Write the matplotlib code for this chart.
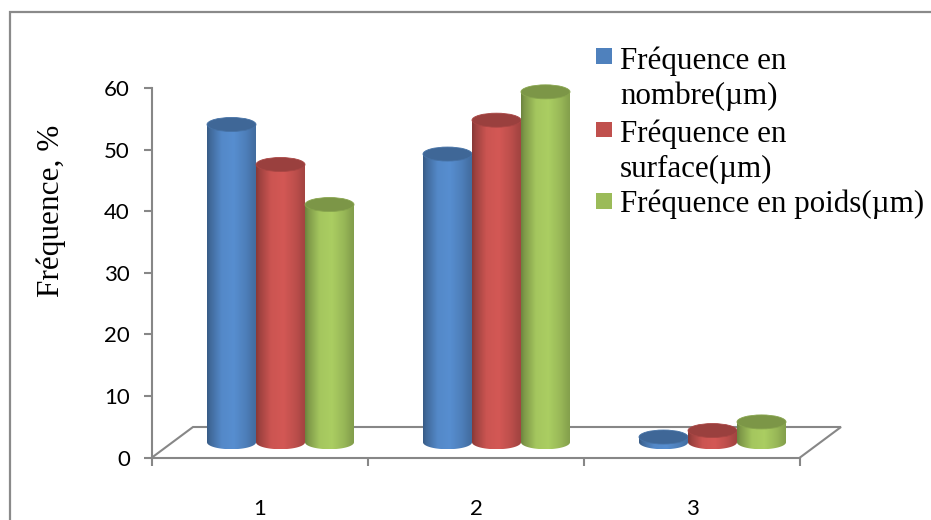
import numpy as np
import matplotlib
matplotlib.use("Agg")
import matplotlib.pyplot as plt
from matplotlib.patches import Rectangle, Ellipse, PathPatch
from matplotlib.path import Path
from matplotlib.lines import Line2D
from matplotlib.colors import to_rgb

# ---- data ----
categories = ["1", "2", "3"]
series_names = ["Fréquence en\nnombre(µm)",
                "Fréquence en\nsurface(µm)",
                "Fréquence en poids(µm)"]
freq_nombre = [51.6, 46.8, 0.85]
freq_surface = [45.1, 52.3, 1.9]
freq_poids = [38.6, 56.9, 3.3]
series_values = [freq_nombre, freq_surface, freq_poids]
series_colors = ["#4F81BD", "#C0504D", "#9BBB59"]
y_ticks = [0, 10, 20, 30, 40, 50, 60]
y_label = "Fréquence, %"

W, H = 931, 520
fig = plt.figure(figsize=(W / 100, H / 100), dpi=100)
fig.patch.set_facecolor("white")


def fx(px):
    return px / W


def fy(py):
    return 1 - py / H


GRAY = "#878787"

# chart frame
fig.patches.append(Rectangle((fx(10), fy(540)), fx(960) - fx(10), fy(12) - fy(540),
                             transform=fig.transFigure, fill=False,
                             edgecolor="#8a8a8a", linewidth=1.6))

# plot area: front face of the 3-D box
ax = fig.add_axes([fx(152), fy(457.5), fx(800) - fx(152), fy(88) - fy(457.5)])
ax.set_xlim(0.5, 3.5)
ax.set_ylim(0, 60)
ax.patch.set_visible(False)
for s in ("top", "right"):
    ax.spines[s].set_visible(False)
for s in ("left", "bottom"):
    ax.spines[s].set_color(GRAY)
    ax.spines[s].set_linewidth(1.5)

# depth of the floor, in data units
px_per_x = (800 - 152) / 3.0
px_per_y = (457.5 - 88) / 60.0
DX = 41.0 / px_per_x
DY = 30.5 / px_per_y

floor_x = [0.5, 0.5 + DX, 3.5 + DX, 3.5]
floor_y = [0, DY, DY, 0]
ax.add_line(Line2D(floor_x, floor_y, color=GRAY, linewidth=1.5,
                   clip_on=False, zorder=1, solid_joinstyle="miter"))

# axes ticks
ax.set_yticks(y_ticks)
ax.set_yticklabels([str(t) for t in y_ticks], fontfamily="Lato", fontsize=16)
ax.tick_params(axis="y", direction="out", length=6, width=1.5, color=GRAY, pad=10)
ax.set_xticks([0.5, 1.5, 2.5, 3.5])
ax.set_xticklabels([])
ax.tick_params(axis="x", which="major", direction="out", length=6, width=1.5, color=GRAY)
ax.set_xticks([1, 2, 3], minor=True)
ax.set_xticklabels(categories, minor=True, fontfamily="Lato", fontsize=16)
ax.tick_params(axis="x", which="minor", length=0, pad=30)

# ---- cylinders ----
bar_w = 49.0 / px_per_x
rx = bar_w / 2
ry = 7.0 / px_per_y

t_prof = np.array([0.0, 0.07, 0.3, 0.55, 0.8, 0.93, 1.0])
f_prof = np.array([0.70, 0.82, 1.06, 1.10, 0.98, 0.88, 0.84])
tt = np.linspace(0, 1, 200)
shade = np.interp(tt, t_prof, f_prof)


def cylinder(cx, yb, value, color, z):
    yt = yb + value
    base = np.array(to_rgb(color))
    theta = np.linspace(0, np.pi, 60)
    arc_x = cx + rx * np.cos(theta)
    arc_y = yb - ry * np.sin(theta)
    verts = [(cx - rx, yb), (cx - rx, yt), (cx + rx, yt), (cx + rx, yb)]
    verts += list(zip(arc_x, arc_y))
    verts.append((cx - rx, yb))
    codes = [Path.MOVETO] + [Path.LINETO] * (len(verts) - 2) + [Path.CLOSEPOLY]
    body = PathPatch(Path(verts, codes), facecolor="none", edgecolor="none",
                     transform=ax.transData)
    ax.add_patch(body)
    grad = np.clip(base[None, None, :] * shade[None, :, None], 0, 1)
    im = ax.imshow(grad, extent=[cx - rx, cx + rx, yb - ry, yt], aspect="auto",
                   interpolation="bilinear", zorder=z, origin="lower")
    im.set_clip_path(body)
    im.set_clip_box(None)
    top = Ellipse((cx, yt), 2 * rx, 2 * ry, facecolor=np.clip(base * 0.8, 0, 1),
                  edgecolor=np.clip(base * 0.88, 0, 1), linewidth=0.6,
                  zorder=z + 0.5, clip_on=False)
    ax.add_patch(top)


offsets = [-bar_w, 0.0, bar_w]
for k in range(len(categories)):
    for j, vals in enumerate(series_values):
        cx = (k + 1) + offsets[j] + DX / 2
        cylinder(cx, DY / 2, vals[k], series_colors[j], 3 + k * 3 + j)

ax.set_xlim(0.5, 3.5)
ax.set_ylim(0, 60)

# value-axis title
fig.text(fx(51), fy(211), y_label, rotation=90, ha="center", va="center",
         fontfamily="Liberation Serif", fontsize=22.5)

# ---- legend ----
leg_lines = [("Fréquence en", 69.3), ("nombre(µm)", 104.0),
             ("Fréquence en", 141.7), ("surface(µm)", 176.7),
             ("Fréquence en poids(µm)", 211.7)]
swatch_tops = [48.3, 121.7, 193.0]
for col, top in zip(series_colors, swatch_tops):
    fig.patches.append(Rectangle((fx(596), fy(top + 15.5)), fx(15.5), 15.5 / H,
                                 transform=fig.transFigure, facecolor=col,
                                 edgecolor="none"))
for txt, base_y in leg_lines:
    fig.text(fx(620), fy(base_y), txt, ha="left", va="baseline",
             fontfamily="Liberation Serif", fontsize=22.3)

fig.savefig("out.png", dpi=100)
